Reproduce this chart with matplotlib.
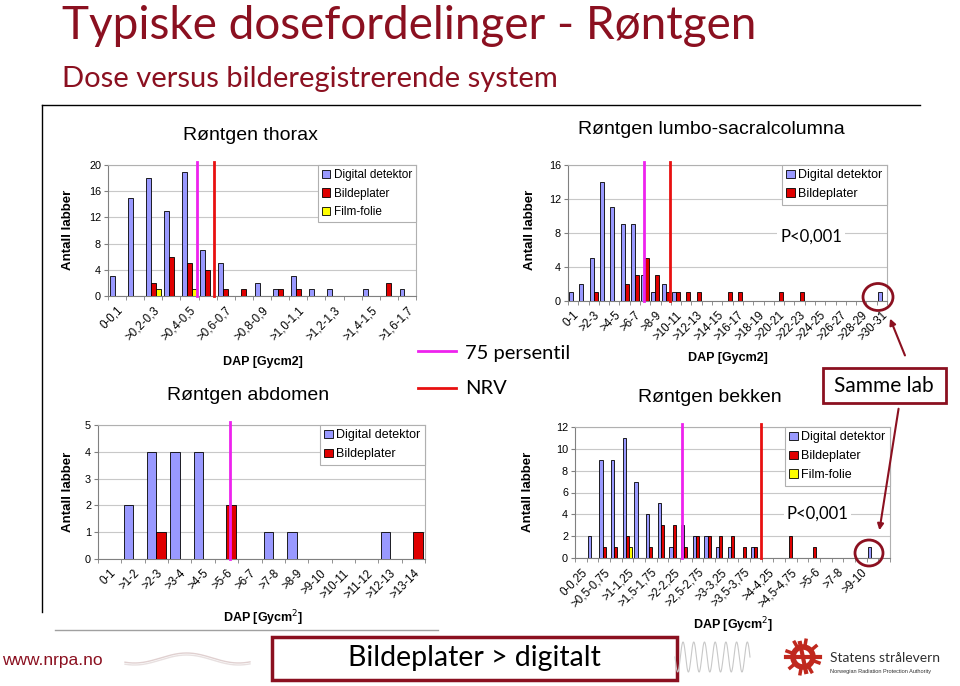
import numpy as np
import matplotlib
matplotlib.use("Agg")
import matplotlib.pyplot as plt
from matplotlib.patches import Rectangle, Ellipse, Patch, Circle

plt.rcParams['font.family'] = ['Liberation Sans', 'DejaVu Sans']

#DATA
names3 = ['Digital detektor', 'Bildeplater', 'Film-folie']

thorax_cats = ['0-0,1', '>0,1-0,2', '>0,2-0,3', '>0,3-0,4', '>0,4-0,5', '>0,5-0,6',
               '>0,6-0,7', '>0,7-0,8', '>0,8-0,9', '>0,9-1,0', '>1,0-1,1', '>1,1-1,2',
               '>1,2-1,3', '>1,3-1,4', '>1,4-1,5', '>1,5-1,6', '>1,6-1,7']
thorax_digital = [3, 15, 18, 13, 19, 7, 5, 0, 2, 1, 3, 1, 1, 0, 1, 0, 1]
thorax_bilde = [0, 0, 2, 6, 5, 4, 1, 1, 0, 1, 1, 0, 0, 0, 0, 2, 0]
thorax_film = [0, 0, 1, 0, 1, 0, 0, 0, 0, 0, 0, 0, 0, 0, 0, 0, 0]
thorax_p75 = 4.4
thorax_nrv = 5.36

lumbar_cats = ['0-1', '>1-2', '>2-3', '>3-4', '>4-5', '>5-6', '>6-7', '>7-8', '>8-9',
               '>9-10', '>10-11', '>11-12', '>12-13', '>13-14', '>14-15', '>15-16',
               '>16-17', '>17-18', '>18-19', '>19-20', '>20-21', '>21-22', '>22-23',
               '>23-24', '>24-25', '>25-26', '>26-27', '>27-28', '>28-29', '>29-30',
               '>30-31']
lumbar_digital = [1, 2, 5, 14, 11, 9, 9, 3, 1, 2, 1, 0, 0, 0, 0, 0, 0, 0, 0, 0, 0, 0,
                  0, 0, 0, 0, 0, 0, 0, 0, 1]
lumbar_bilde = [0, 0, 1, 0, 0, 2, 3, 5, 3, 1, 1, 1, 1, 0, 0, 1, 1, 0, 0, 0, 1, 0, 1,
                0, 0, 0, 0, 0, 0, 0, 0]
lumbar_p75 = 6.91
lumbar_nrv = 9.4

abd_cats = ['0-1', '>1-2', '>2-3', '>3-4', '>4-5', '>5-6', '>6-7', '>7-8', '>8-9',
            '>9-10', '>10-11', '>11-12', '>12-13', '>13-14']
abd_digital = [0, 2, 4, 4, 4, 0, 0, 1, 1, 0, 0, 0, 1, 0]
abd_bilde = [0, 0, 1, 0, 0, 2, 0, 0, 0, 0, 0, 0, 0, 1]
abd_p75 = 5.17

bekken_cats = ['0-0,25', '>0,25-0,5', '>0,5-0,75', '>0,75-1', '>1-1,25', '>1,25-1,5',
               '>1,5-1,75', '>1,75-2', '>2-2,25', '>2,25-2,5', '>2,5-2,75', '>2,75-3',
               '>3-3,25', '>3,25-3,5', '>3,5-3,75', '>3,75-4', '>4-4,25', '>4,25-4,5',
               '>4,5-4,75', '>4,75-5', '>5-6', '>6-7', '>7-8', '>8-9', '>9-10', '>10', '']
bekken_digital = [0, 2, 9, 9, 11, 7, 4, 5, 1, 3, 2, 2, 1, 1, 0, 1, 0, 0, 0, 0, 0, 0,
                  0, 0, 0, 1, 0]
bekken_bilde = [0, 0, 1, 1, 2, 0, 1, 3, 3, 1, 2, 2, 2, 2, 1, 1, 0, 0, 2, 0, 1, 0, 0,
                0, 0, 0, 0]
bekken_film = [0, 0, 0, 0, 1, 0, 0, 0, 0, 0, 0, 0, 0, 0, 0, 0, 0, 0, 0, 0, 0, 0, 0,
               0, 0, 0, 0]
bekken_p75 = 8.66
bekken_nrv = 15.41

col_digital = '#9999FF'
col_bilde = '#E00000'
col_film = '#FFFF00'
col_p75 = '#EE22EE'
col_nrv = '#E81010'
dark_red = '#8B1020'
comic = ['Lato', 'DejaVu Sans']

W, H = 960, 686
fig = plt.figure(figsize=(9.6, 6.86), dpi=100)


def px_axes(x0, y0, x1, y1):
    return fig.add_axes([x0 / W, 1 - y1 / H, (x1 - x0) / W, (y1 - y0) / H])


def panel(ax, cats, series, colors, ylim, yticks, step, width, p75=None, nrv=None,
          leg_size=9):
    n = len(cats)
    x = np.arange(n)
    k = len(series)
    for i, (vals, c) in enumerate(zip(series, colors)):
        ax.bar(x + (i - (k - 1) / 2) * width, vals, width, color=c,
               edgecolor='black', linewidth=0.6, zorder=3)
    ax.set_xlim(-0.5, n - 0.5)
    ax.set_ylim(*ylim)
    ax.set_yticks(yticks)
    ax.set_xticks(x[::step])
    ax.set_xticklabels(cats[::step], rotation=45, ha='right', va='top',
                       rotation_mode='anchor', fontsize=8.3)
    ax.set_xticks(np.arange(n + 1) - 0.5, minor=True)
    ax.tick_params(axis='x', which='major', length=0, pad=6)
    ax.tick_params(axis='x', which='minor', length=3, color='#808080')
    ax.tick_params(axis='y', length=3, color='#808080', labelsize=7.8, pad=2)
    ax.grid(axis='y', color='#c8c8c8', linewidth=0.8, zorder=0)
    ax.set_axisbelow(True)
    for s in ['top', 'right']:
        ax.spines[s].set_color('#b0b0b0')
    for s in ['left', 'bottom']:
        ax.spines[s].set_color('#808080')
    if p75 is not None:
        ax.axvline(p75, ymin=0, ymax=1.02, color=col_p75, lw=2, zorder=4, clip_on=False)
    if nrv is not None:
        ax.axvline(nrv, ymin=0, ymax=1.02, color=col_nrv, lw=2, zorder=4, clip_on=False)
    handles = [Patch(facecolor=c, edgecolor='black', linewidth=0.6) for c in colors]
    leg = ax.legend(handles, names3[:k], loc='upper right', bbox_to_anchor=(1, 1),
                    borderaxespad=0, fancybox=False, edgecolor='#b0b0b0',
                    framealpha=1, handlelength=0.7, handleheight=0.7,
                    handletextpad=0.3, borderpad=0.35, labelspacing=0.55,
                    fontsize=leg_size)
    leg.get_frame().set_linewidth(0.8)
    leg.set_zorder(5)


#THORAX
ax1 = px_axes(108, 165, 416, 296)
panel(ax1, thorax_cats, [thorax_digital, thorax_bilde, thorax_film],
      [col_digital, col_bilde, col_film], (0, 20), [0, 4, 8, 12, 16, 20], 2, 0.27,
      thorax_p75, thorax_nrv, leg_size=8.5)

#LUMBAR
ax2 = px_axes(568, 165, 887, 301)
panel(ax2, lumbar_cats, [lumbar_digital, lumbar_bilde], [col_digital, col_bilde],
      (0, 16), [0, 4, 8, 12, 16], 2, 0.39, lumbar_p75, lumbar_nrv)
ax2.text(0.762, 0.47, 'P<0,001', transform=ax2.transAxes, ha='center', va='center',
         fontsize=12, family=comic, zorder=6,
         bbox=dict(facecolor='white', edgecolor='none', pad=2))

#ABDOMEN
ax3 = px_axes(98, 425, 425, 559)
panel(ax3, abd_cats, [abd_digital, abd_bilde], [col_digital, col_bilde],
      (0, 5), [0, 1, 2, 3, 4, 5], 1, 0.4, abd_p75)

#BEKKEN
ax4 = px_axes(575, 427, 890, 558)
panel(ax4, bekken_cats, [bekken_digital, bekken_bilde, bekken_film],
      [col_digital, col_bilde, col_film], (0, 12), [0, 2, 4, 6, 8, 10, 12], 2, 0.28,
      bekken_p75, bekken_nrv)
ax4.text(0.77, 0.34, 'P<0,001', transform=ax4.transAxes, ha='center', va='center',
         fontsize=12, family=comic, zorder=6,
         bbox=dict(facecolor='white', edgecolor='none', pad=2))

#AXIS LABELS
def ftext(x, y, s, **kw):
    fig.text(x / W, 1 - y / H, s, **kw)


for (x, y) in [(68, 230), (530, 230), (68, 492), (528, 492)]:
    ftext(x, y, 'Antall labber', rotation=90, ha='center', va='center',
          fontsize=9.5, fontweight='bold')
ftext(263, 362, 'DAP [Gycm2]', ha='center', va='center', fontsize=9, fontweight='bold')
ftext(728, 358, 'DAP [Gycm2]', ha='center', va='center', fontsize=9, fontweight='bold')
ftext(263, 618, 'DAP [Gycm$^2$]', ha='center', va='center', fontsize=9,
      fontweight='bold')
ftext(733, 625, 'DAP [Gycm$^2$]', ha='center', va='center', fontsize=9,
      fontweight='bold')

ftext(250, 135, 'Røntgen thorax', ha='center', va='center', fontsize=14)
ftext(711, 130, 'Røntgen lumbo-sacralcolumna', ha='center', va='center', fontsize=14)
ftext(248, 395, 'Røntgen abdomen', ha='center', va='center', fontsize=14)
ftext(710, 398, 'Røntgen bekken', ha='center', va='center', fontsize=14)

#TITLES
ftext(62, 39, 'Typiske dosefordelinger - Røntgen', ha='left', va='baseline',
      fontsize=33, color=dark_red, family=comic)
ftext(62, 87, 'Dose versus bilderegistrerende system', ha='left', va='baseline',
      fontsize=21, color=dark_red, family=comic)

#OVERLAY
ov = fig.add_axes([0, 0, 1, 1], zorder=10)
ov.set_xlim(0, W)
ov.set_ylim(H, 0)
ov.axis('off')
ov.patch.set_alpha(0)

ov.plot([42, 920], [105, 105], color='black', lw=1)
ov.plot([42, 42], [105, 612], color='black', lw=1)
ov.plot([55, 438], [630, 630], color='#a0a0a0', lw=1)

ov.plot([418, 456], [351, 351], color=col_p75, lw=2)
ov.text(465, 353, '75 persentil', ha='left', va='center', fontsize=14.5, family=comic)
ov.plot([418, 456], [388, 388], color=col_nrv, lw=2)
ov.text(465, 389, 'NRV', ha='left', va='center', fontsize=14.5, family=comic)

ov.add_patch(Rectangle((823, 368), 123, 35, fill=False, edgecolor=dark_red, lw=2))
ov.text(884, 386, 'Samme lab', ha='center', va='center', fontsize=15, family=comic)
ov.add_patch(Ellipse((878, 297), 30, 27, fill=False, edgecolor=dark_red, lw=2))
ov.add_patch(Ellipse((869, 553), 28, 26, fill=False, edgecolor=dark_red, lw=2))
ov.annotate('', xy=(889, 316), xytext=(906, 358),
            arrowprops=dict(arrowstyle='-|>', color=dark_red, lw=1.5,
                            mutation_scale=9))
ov.annotate('', xy=(879, 533), xytext=(899, 406),
            arrowprops=dict(arrowstyle='-|>', color=dark_red, lw=1.5,
                            mutation_scale=9))

ov.add_patch(Rectangle((272, 637), 405, 43, fill=False, edgecolor=dark_red, lw=2.5))
ov.text(474, 658, 'Bildeplater > digitalt', ha='center', va='center', fontsize=20.5,
        family=comic)

ov.text(2, 660, 'www.nrpa.no', ha='left', va='center', fontsize=12.5, color=dark_red)

#decorative waves
t = np.linspace(0, 1, 300)
for dy, c in [(0, '#e0d0d0'), (2, '#e8e0e0')]:
    ov.plot(125 + 125 * t, 658 + dy + 5 * np.sin(2 * np.pi * 1.2 * t + 1.0), color=c, lw=1)
ov.plot(675 + 75 * t, 657 + 15 * np.sin(2 * np.pi * 7 * t), color='#c8c8c8', lw=0.8)

#logo
ov.add_patch(Circle((803, 657), 10, fill=False, edgecolor='#C0281E', lw=4))
ov.plot([786, 820], [657, 657], color='#C0281E', lw=3)
ov.plot([800, 806], [643, 672], color='#C0281E', lw=3)
for ang in np.deg2rad([20, 60, 100, 140, 200, 240, 280, 320]):
    ov.plot([803 + 12 * np.cos(ang), 803 + 17 * np.cos(ang)],
            [657 + 12 * np.sin(ang), 657 + 17 * np.sin(ang)], color='#C0281E', lw=2.5)
ov.text(830, 658, 'Statens strålevern', ha='left', va='center', fontsize=10,
        family=comic, color='#303030')
ov.text(830, 671, 'Norwegian Radiation Protection Authority', ha='left', va='center',
        fontsize=4, color='#303030')

fig.savefig('out.png', dpi=100)
